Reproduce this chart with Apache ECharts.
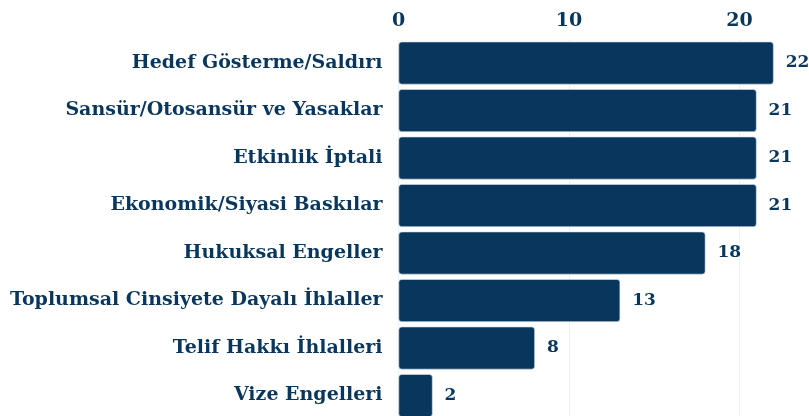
<!DOCTYPE html>
<html>
<head>
<meta charset="utf-8">
<script src="https://cdn.jsdelivr.net/npm/echarts@6/dist/echarts.min.js"></script>
<style>
html,body{margin:0;padding:0;background:#fff;}
#c{width:809px;height:416px;}
</style>
</head>
<body>
<div id="c"></div>
<script>
const categories = [
  "Hedef Gösterme/Saldırı",
  "Sansür/Otosansür ve Yasaklar",
  "Etkinlik İptali",
  "Ekonomik/Siyasi Baskılar",
  "Hukuksal Engeller",
  "Toplumsal Cinsiyete Dayalı İhlaller",
  "Telif Hakkı İhlalleri",
  "Vize Engelleri"
];
const values = [22, 21, 21, 21, 18, 13, 8, 2];
const tickValues = [0, 10, 20];

const navy = '#08365c';
const font = '"DejaVu Serif", "Liberation Serif", serif';

const chart = echarts.init(document.getElementById('c'), null, {renderer: 'canvas'});
chart.setOption({
  animation: false,
  grid: {left: 398.5, top: 39.3, width: 426.3, height: 380, containLabel: false, outerBoundsMode: 'none'},
  xAxis: {
    type: 'value',
    position: 'top',
    min: 0,
    max: 25,
    interval: 10,
    axisLine: {show: false},
    axisTick: {show: false},
    splitLine: {show: true, lineStyle: {color: '#eef0f2', width: 1}},
    axisLabel: {
      color: navy,
      fontFamily: font,
      fontWeight: 'bold',
      fontSize: 19,
      margin: 9,
      formatter: v => tickValues.includes(v) ? String(v) : ''
    }
  },
  yAxis: {
    type: 'category',
    data: categories,
    inverse: true,
    axisLine: {show: false},
    axisTick: {show: false},
    splitLine: {show: false},
    axisLabel: {
      color: navy,
      fontFamily: font,
      fontWeight: 'bold',
      fontSize: 19,
      margin: 16
    }
  },
  series: [{
    type: 'bar',
    data: values,
    barCategoryGap: '10%',
    itemStyle: {color: navy, borderRadius: 3, borderColor: '#d9e1e8', borderWidth: 0.6},
    label: {
      show: true,
      position: 'right',
      distance: 12,
      color: navy,
      fontFamily: font,
      fontWeight: 'bold',
      fontSize: 17
    }
  }]
});
</script>
</body>
</html>
